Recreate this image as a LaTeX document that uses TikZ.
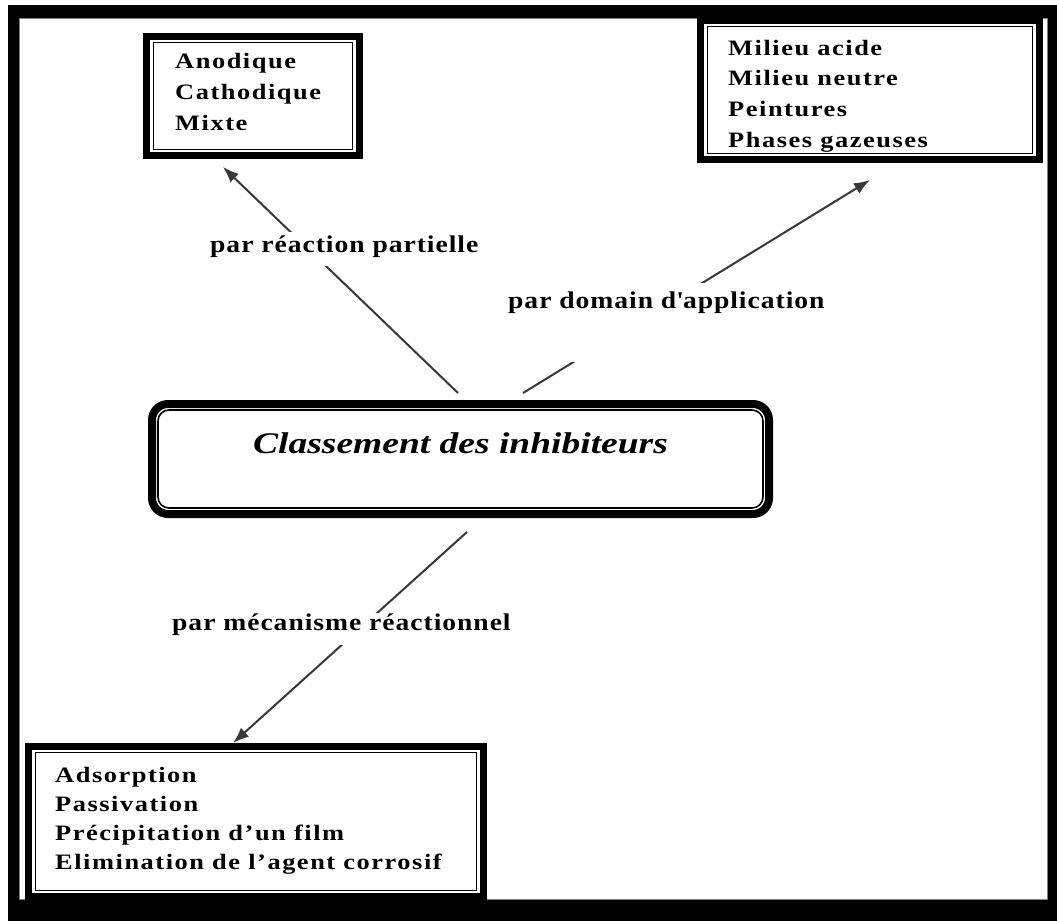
\documentclass[tikz,border=0pt]{standalone}
\usepackage{fontspec}
\usetikzlibrary{arrows.meta}
\newfontfamily\boxfont{Liberation Serif}[FakeStretch=1.2,LetterSpace=7]
\newfontfamily\lblfont{Liberation Serif}[FakeStretch=1.15,LetterSpace=4]
\newfontfamily\ttlfont{Liberation Serif}[FakeStretch=1.25]
\definecolor{linegray}{HTML}{383838}
\begin{document}
\begin{tikzpicture}[x=1pt,y=-1pt,
  framebox/.style={draw=black,line width=7pt,fill=white,inner sep=0pt,
    path picture={\draw[black,line width=1.6pt]
      ([shift={(7pt,-6pt)}]path picture bounding box.north west) rectangle
      ([shift={(-7pt,6pt)}]path picture bounding box.south east);}},
  roundbox/.style={draw=black,line width=8pt,fill=white,inner sep=0pt,rounded corners=16pt,
    path picture={\draw[black,line width=1.6pt,rounded corners=11pt]
      ([shift={(6pt,-6pt)}]path picture bounding box.north west) rectangle
      ([shift={(-6pt,6pt)}]path picture bounding box.south east);}},
  boxtext/.style={anchor=base west,inner sep=0pt},
  lbl/.style={anchor=base west,fill=white,inner xsep=2pt,inner ysep=0pt,
    font=\lblfont\bfseries\fontsize{24}{28}\selectfont},
  conn/.style={draw=linegray,line width=2pt,-{Latex[length=16pt,width=12pt]}}
]
\useasboundingbox (0,0) rectangle (1057,921);
% outer frame
\fill[black] (8,5) rectangle (1057,921);
\fill[white] (19,18) rectangle (1048,900);
\draw[gray,line width=0.8pt] (19.4,18.4) rectangle (1047.6,899.6);

% boxes
\node[framebox,minimum width=213pt,minimum height=119pt] (tl) at (253,96) {};
\node[framebox,minimum width=339pt,minimum height=139pt] (tr) at (870,90) {};
\node[framebox,minimum width=455pt,minimum height=150pt] (bl) at (256,821.5) {};
\node[roundbox,minimum width=617pt,minimum height=110pt] (c) at (460.5,459) {};

% box texts
\node[boxtext,font=\boxfont\bfseries\fontsize{22}{31}\selectfont] (tltext) at (175,68)
  {\begin{tabular}[t]{@{}l@{}}Anodique\\Cathodique\\Mixte\end{tabular}};
\node[boxtext,font=\boxfont\bfseries\fontsize{22}{30.7}\selectfont] (trtext) at (728,55)
  {\begin{tabular}[t]{@{}l@{}}Milieu acide\\Milieu neutre\\Peintures\\Phases gazeuses\end{tabular}};
\node[boxtext,font=\boxfont\bfseries\fontsize{22}{29.3}\selectfont] (bltext) at (55,782)
  {\begin{tabular}[t]{@{}l@{}}Adsorption\\Passivation\\Précipitation d’un film\\Elimination de l’agent corrosif\end{tabular}};
\node[boxtext,font=\ttlfont\bfseries\itshape\fontsize{30}{36}\selectfont] (title) at (253,453)
  {Classement des inhibiteurs};

% connectors
\coordinate (s1) at (458,393); \coordinate (t1) at (223,167);
\coordinate (s2) at (523,393); \coordinate (t2) at (870,180);
\coordinate (s3) at (467,532); \coordinate (t3) at (233,743);
\draw[conn] (s1) -- (t1);
\draw[conn] (s2) -- (t2);
\draw[conn] (s3) -- (t3);

% labels
\node[lbl,text height=20pt,text depth=14pt] (l1) at (208,252) {par réaction partielle};
\node[lbl,text height=25pt,text depth=54pt] (l2) at (506,308) {par domain d\textquotesingle application};
\node[lbl,text height=17pt,text depth=15pt] (l3) at (170,630) {par mécanisme réactionnel};
\end{tikzpicture}
\end{document}
